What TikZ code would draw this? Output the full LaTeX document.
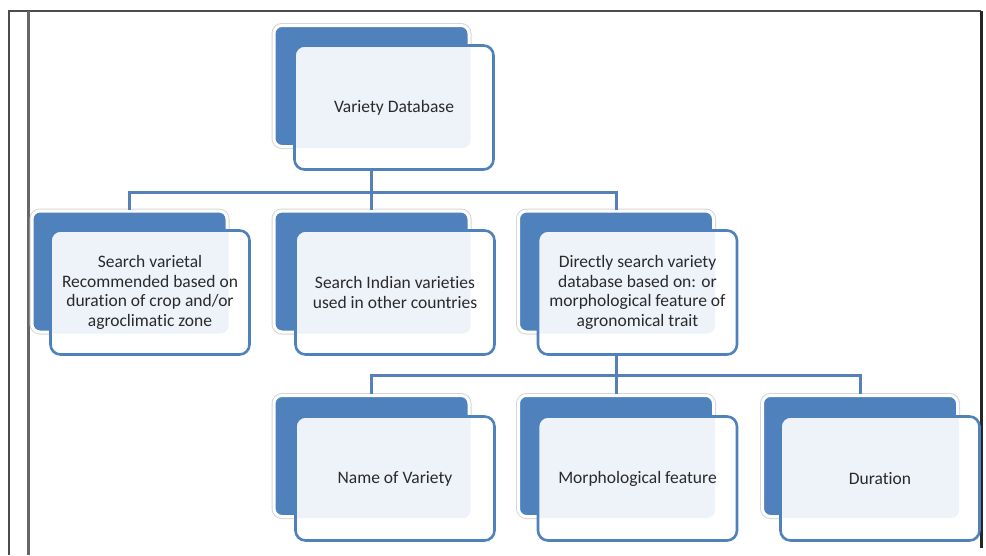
\documentclass[tikz,border=0pt]{standalone}
\usepackage{fontspec}
\setmainfont[Ligatures=NoCommon]{Carlito}
\definecolor{boxblue}{HTML}{4F81BD}
\definecolor{conblue}{HTML}{5580B8}
\definecolor{lightfill}{HTML}{EEF2F9}
\definecolor{txtgray}{HTML}{2A2A2A}
\begin{document}
\begin{tikzpicture}[x=1pt,y=-1pt,
  backbox/.style={rectangle, rounded corners=8pt, minimum width=195pt, minimum height=121pt,
    fill=boxblue, draw=white, line width=3pt, preaction={draw=black!16, line width=5pt}, inner sep=0pt},
  frontbox/.style={rectangle, rounded corners=10pt, minimum width=199pt, minimum height=124pt,
    fill=white, draw=boxblue, line width=2.6pt, inner sep=0pt,
    font=\fontsize{17.5}{19.6}\selectfont, text=txtgray, align=center},
  conn/.style={draw=conblue, line width=3pt},
  frame/.style={line width=2pt, draw=black!70}
]
\useasboundingbox (0,0) rectangle (986,555);
% page frame
\draw[frame] (9,555) -- (9,11) -- (981,11);
\draw[line width=3pt, draw=black!60] (28,11) -- (28,555);
\draw[line width=3pt, draw=black!85] (981,11) -- (981,548);

% back boxes
\node[backbox] (tb) at (371.5,86) {};
\node[backbox] (ab) at (129.5,271.5) {};
\node[backbox] (bb) at (371.5,271.5) {};
\node[backbox] (cb) at (616,271.5) {};
\node[backbox] (nb) at (371.5,456) {};
\node[backbox] (mb) at (616,456) {};
\node[backbox] (db) at (860,456) {};

% connectors
\draw[conn] (tb.south) -- (tb.south |- 0,192) -| (ab.north);
\draw[conn] (tb.south |- 0,192) -- (bb.north);
\draw[conn] (tb.south |- 0,192) -| (cb.north);
\draw[conn] (cb.south) -- (cb.south |- 0,375) -| (nb.north);
\draw[conn] (cb.south |- 0,375) -- (mb.north);
\draw[conn] (cb.south |- 0,375) -| (db.north);

% front boxes
\node[frontbox, path picture={\fill[lightfill, rounded corners=8pt] (tb.north west) rectangle (tb.south east);}] (t) at (394,107.5) {Variety Database};
\node[frontbox, path picture={\fill[lightfill, rounded corners=8pt] (ab.north west) rectangle (ab.south east);}] (a) at (150,292.5) {Search varietal\\Recommended based on\\duration of crop and/or\\agroclimatic zone};
\node[frontbox, path picture={\fill[lightfill, rounded corners=8pt] (bb.north west) rectangle (bb.south east);}] (b) at (395,292.5) {Search Indian varieties\\used in other countries};
\node[frontbox, path picture={\fill[lightfill, rounded corners=8pt] (cb.north west) rectangle (cb.south east);}] (c) at (637.5,292.5) {Directly search variety\\database based on: or\\morphological feature of\\agronomical trait};
\node[frontbox, path picture={\fill[lightfill, rounded corners=8pt] (nb.north west) rectangle (nb.south east);}] (n) at (395,478.5) {Name of Variety};
\node[frontbox, path picture={\fill[lightfill, rounded corners=8pt] (mb.north west) rectangle (mb.south east);}] (m) at (637.5,478.5) {Morphological feature};
\node[frontbox, path picture={\fill[lightfill, rounded corners=8pt] (db.north west) rectangle (db.south east);}] (d) at (880,478.5) {Duration};
\end{tikzpicture}
\end{document}
